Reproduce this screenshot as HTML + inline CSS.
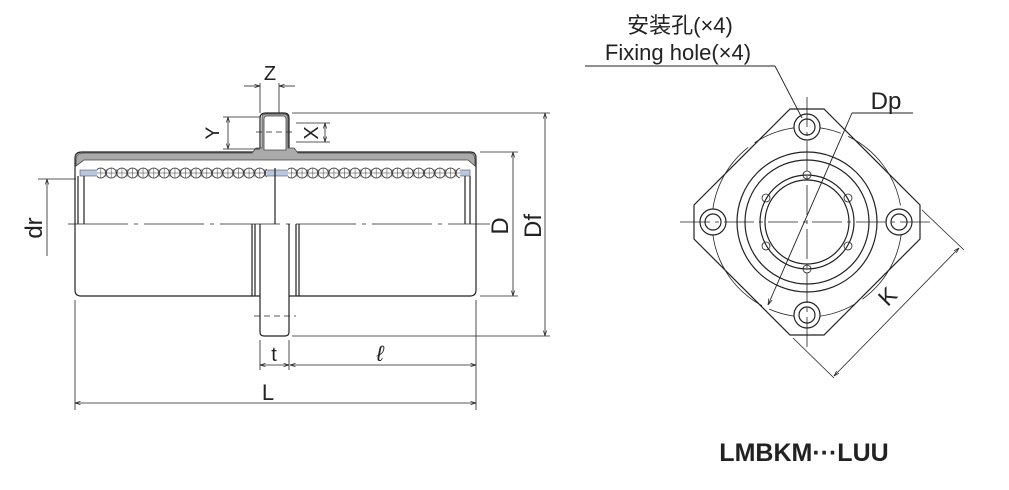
<!DOCTYPE html>
<html><head><meta charset="utf-8"><style>
html,body{margin:0;padding:0;background:#fff;width:1009px;height:490px;overflow:hidden}
svg{display:block}
text{font-family:"Liberation Sans","Noto Sans CJK SC",sans-serif;fill:#222}
</style></head><body>
<svg width="1009" height="490" viewBox="0 0 1009 490" xmlns="http://www.w3.org/2000/svg">
<defs>
<marker id="a" viewBox="0 0 10 10" refX="10" refY="5" markerWidth="7" markerHeight="7" orient="auto-start-reverse"><path d="M0,2 L10,5 L0,8" fill="none" stroke="#222" stroke-width="1.2"/></marker>
<pattern id="balls" x="0" y="167" width="10.6" height="12" patternUnits="userSpaceOnUse"><circle cx="5.3" cy="6" r="5" fill="#fff" stroke="#333" stroke-width="0.8"/><line x1="5.3" y1="1" x2="5.3" y2="11" stroke="#333" stroke-width="0.5"/><line x1="0.3" y1="6" x2="10.3" y2="6" stroke="#333" stroke-width="0.5"/></pattern>
</defs>
<g stroke="#222" stroke-width="1.2" fill="none">
<path d="M75,224 V158 Q75,152 82,152 H260 V118 Q260,113 266,113 H284 Q289,113 289,118 V152 H470 Q476,152 476,158 V224" fill="#fff"/>
<path d="M76,160 Q76,153 83,153 H252 L256,148 H262 V118 Q262,114 266,114 H284 Q288,114 288,118 V148 H294 L298,153 H469 Q475,153 475,160 V166 L468,160 H84 L76,166 Z" fill="#aaa" stroke="#444" stroke-width="0.8"/>
<path d="M264,150 V119 Q264,116 267,116 H283 Q286,116 286,119 V150 Z" fill="#fff" stroke="#444" stroke-width="0.8"/>
<rect x="80" y="170" width="390" height="6" fill="#b9c6e0" stroke="#555" stroke-width="0.6"/>
<rect x="97" y="167" width="170" height="12" fill="url(#balls)" stroke="none"/>
<rect x="288" y="167" width="172" height="12" fill="url(#balls)" stroke="none"/>
<line x1="78" y1="176" x2="78" y2="224"/><line x1="84" y1="176" x2="84" y2="224"/>
<line x1="465" y1="176" x2="465" y2="224"/><line x1="470" y1="176" x2="470" y2="224"/>
<line x1="275" y1="168" x2="275" y2="224"/>
<path d="M75,224 V290 Q75,296 81,296 H252 V224"/>
<path d="M476,224 V290 Q476,296 470,296 H299 V224"/>
<line x1="255" y1="224" x2="255" y2="296"/><line x1="296" y1="224" x2="296" y2="296"/>
<path d="M260,224 V332 Q260,336 264,336 H285 Q289,336 289,332 V224"/>
<line x1="252" y1="296" x2="260" y2="296"/><line x1="289" y1="296" x2="299" y2="296"/>
<line x1="68" y1="224" x2="490" y2="224" stroke-dasharray="60,6,4,6" stroke-width="0.8"/>
<line x1="254" y1="316" x2="296" y2="316" stroke-dasharray="6,4" stroke-width="0.8"/>
<line x1="256" y1="132" x2="294" y2="132" stroke-dasharray="6,4" stroke-width="0.8"/>
<line x1="260" y1="83" x2="260" y2="113" stroke-width="0.8"/><line x1="279" y1="83" x2="279" y2="113" stroke-width="0.8"/>
<line x1="244" y1="86" x2="260" y2="86" marker-end="url(#a)" stroke-width="0.8"/><line x1="295" y1="86" x2="279" y2="86" marker-end="url(#a)" stroke-width="0.8"/>
<line x1="223" y1="117" x2="260" y2="117" stroke-width="0.8"/><line x1="223" y1="149" x2="260" y2="149" stroke-width="0.8"/>
<line x1="228" y1="117" x2="228" y2="149" marker-start="url(#a)" marker-end="url(#a)" stroke-width="0.8"/>
<line x1="296" y1="123" x2="330" y2="123" stroke-width="0.8"/><line x1="296" y1="142" x2="330" y2="142" stroke-width="0.8"/>
<line x1="325" y1="123" x2="325" y2="142" marker-start="url(#a)" marker-end="url(#a)" stroke-width="0.8"/>
<line x1="292" y1="113" x2="550" y2="113" stroke-width="0.8"/><line x1="292" y1="336" x2="550" y2="336" stroke-width="0.8"/>
<line x1="545" y1="113" x2="545" y2="336" marker-start="url(#a)" marker-end="url(#a)" stroke-width="0.8"/>
<line x1="480" y1="152" x2="518" y2="152" stroke-width="0.8"/><line x1="480" y1="296" x2="518" y2="296" stroke-width="0.8"/>
<line x1="513" y1="152" x2="513" y2="296" marker-start="url(#a)" marker-end="url(#a)" stroke-width="0.8"/>
<line x1="38" y1="179" x2="76" y2="179" stroke-width="0.8"/>
<line x1="47" y1="256" x2="47" y2="179" marker-end="url(#a)" stroke-width="0.8"/>
<line x1="75" y1="300" x2="75" y2="410" stroke-width="0.8"/><line x1="476" y1="300" x2="476" y2="410" stroke-width="0.8"/>
<line x1="260" y1="340" x2="260" y2="370" stroke-width="0.8"/><line x1="289" y1="340" x2="289" y2="370" stroke-width="0.8"/>
<line x1="260" y1="365" x2="289" y2="365" marker-start="url(#a)" marker-end="url(#a)" stroke-width="0.8"/>
<line x1="290" y1="365" x2="476" y2="365" marker-start="url(#a)" marker-end="url(#a)" stroke-width="0.8"/>
<line x1="75" y1="403" x2="476" y2="403" marker-start="url(#a)" marker-end="url(#a)" stroke-width="0.8"/>
</g>
<text x="270" y="80" font-size="20" text-anchor="middle">Z</text>
<text transform="translate(219,133) rotate(-90)" font-size="19" text-anchor="middle">Y</text>
<text transform="translate(318,133) rotate(-90)" font-size="20" text-anchor="middle">X</text>
<text transform="translate(508,226) rotate(-90)" font-size="24" text-anchor="middle">D</text>
<text transform="translate(541,226) rotate(-90)" font-size="24" text-anchor="middle">Df</text>
<text transform="translate(42,228) rotate(-90)" font-size="24" text-anchor="middle">dr</text>
<text x="274" y="361" font-size="20" text-anchor="middle">t</text>
<text x="380" y="361" font-size="22" text-anchor="middle" font-style="italic">ℓ</text>
<text x="268" y="400" font-size="22" text-anchor="middle">L</text>

<g stroke="#222" stroke-width="1.2" fill="none">
<path d="M790,109 H824 L920,205 V239 L824,335 H790 L694,239 V205 Z"/>
<circle cx="807" cy="222" r="95" stroke-width="0.8" stroke-dasharray="90,8"/>
<circle cx="807" cy="222" r="70"/><circle cx="807" cy="222" r="62"/>
<circle cx="807" cy="222" r="47"/><circle cx="807" cy="222" r="42"/>
<g fill="#fff">
<circle cx="807" cy="127" r="13"/><circle cx="807" cy="127" r="8"/>
<circle cx="807" cy="315" r="13"/><circle cx="807" cy="315" r="8"/>
<circle cx="713" cy="222" r="13"/><circle cx="713" cy="222" r="8"/>
<circle cx="899" cy="222" r="13"/><circle cx="899" cy="222" r="8"/>
</g>
<g stroke-width="0.8">
<circle cx="807" cy="175" r="4"/><circle cx="807" cy="269" r="4"/>
<circle cx="766" cy="198" r="4"/><circle cx="848" cy="198" r="4"/>
<circle cx="766" cy="246" r="4"/><circle cx="848" cy="246" r="4"/>
</g>
<line x1="680" y1="222" x2="932" y2="222" stroke-width="0.8" stroke-dasharray="30,5,4,5"/>
<line x1="807" y1="97" x2="807" y2="347" stroke-width="0.8" stroke-dasharray="30,5,4,5"/>
<line x1="768" y1="305" x2="852" y2="113" marker-start="url(#a)" stroke-width="0.9"/>
<line x1="852" y1="113" x2="913" y2="113" stroke-width="0.9"/>
<line x1="585" y1="66" x2="775" y2="66" stroke-width="1"/>
<line x1="775" y1="66" x2="802" y2="118" stroke-width="0.9"/>
<line x1="922" y1="210" x2="964" y2="250" stroke-width="0.8"/>
<line x1="793" y1="338" x2="834" y2="378" stroke-width="0.8"/>
<line x1="959" y1="248" x2="834" y2="376" marker-start="url(#a)" marker-end="url(#a)" stroke-width="0.8"/>
</g>
<text x="680" y="33" font-size="22" text-anchor="middle">安装孔(×4)</text>
<text x="678" y="60" font-size="22" text-anchor="middle">Fixing hole(×4)</text>
<text x="886" y="109" font-size="24" text-anchor="middle">Dp</text>
<text transform="translate(893,302) rotate(-45)" font-size="23" text-anchor="middle">K</text>
<text x="804" y="461" font-size="25" font-weight="bold" text-anchor="middle">LMBKM···LUU</text>
</svg>
</body></html>
